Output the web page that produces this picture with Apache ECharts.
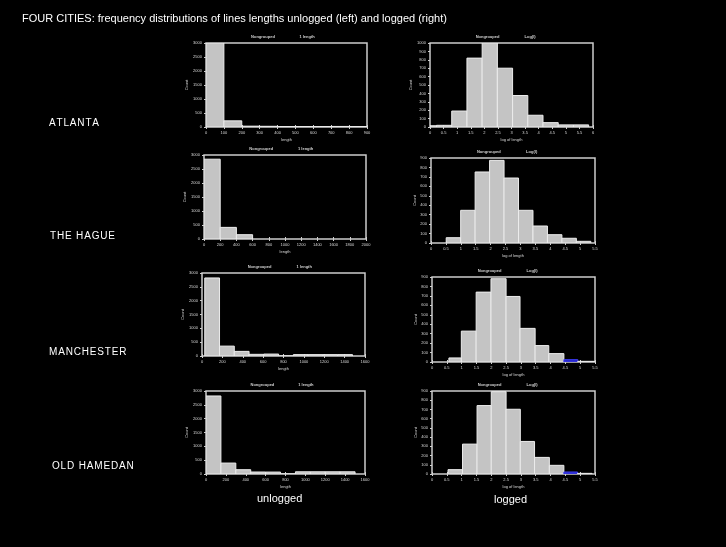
<!DOCTYPE html>
<html><head><meta charset="utf-8">
<script src="https://cdn.jsdelivr.net/npm/echarts@6/dist/echarts.min.js"></script>
<style>html,body{margin:0;padding:0;background:#000}#c{width:726px;height:547px}</style>
</head><body><div id="c"></div>
<script>
// ---------------- DATA ----------------
const titleText = 'FOUR CITIES: frequency distributions of lines lengths unlogged (left) and logged (right)';
const cities = ['ATLANTA', 'THE HAGUE', 'MANCHESTER', 'OLD HAMEDAN'];
const columnLabels = ['unlogged', 'logged'];

// unlogged histograms (bin edges in length units, counts)
const atlantaUnEdges = [0, 100, 200, 300, 400, 500, 600, 700, 800, 900];
const atlantaUnCounts = [3000, 220, 30, 25, 15, 15, 15, 20, 15];
const atlantaUnTicks = [0, 100, 200, 300, 400, 500, 600, 700, 800, 900];

const hagueUnEdges = [0, 200, 400, 600];
const hagueUnCounts = [2850, 415, 154];
const hagueUnTicks = [0, 200, 400, 600, 800, 1000, 1200, 1400, 1600, 1800, 2000];

const manchesterUnEdges = [27, 172, 317, 462, 607, 752, 897, 1042, 1187, 1332, 1477];
const manchesterUnCounts = [2821, 357, 167, 60, 70, 0, 50, 50, 50, 50];
const manchesterUnTicks = [0, 200, 400, 600, 800, 1000, 1200, 1400, 1600];

const hamedanUnEdges = [0, 150, 300, 450, 600, 750, 900, 1050, 1200, 1350, 1500];
const hamedanUnCounts = [2820, 395, 155, 72, 70, 0, 80, 80, 80, 80];
const hamedanUnTicks = [0, 200, 400, 600, 800, 1000, 1200, 1400, 1600];

const unYTicks = [0, 500, 1000, 1500, 2000, 2500, 3000];

// logged histograms
const atlantaLogEdges = [-0.32, 0.24, 0.80, 1.36, 1.92, 2.48, 3.04, 3.60, 4.16, 4.72, 5.28, 5.84];
const atlantaLogCounts = [15, 20, 190, 820, 1000, 700, 375, 140, 52, 25, 25];
const atlantaLogHighlight = [];
const atlantaLogTicks = [0, 0.5, 1, 1.5, 2, 2.5, 3, 3.5, 4, 4.5, 5, 5.5, 6];
const atlantaLogYTicks = [0, 100, 200, 300, 400, 500, 600, 700, 800, 900, 1000];

const hagueLogEdges = [0.51, 0.995, 1.48, 1.965, 2.45, 2.935, 3.42, 3.905, 4.39, 4.875, 5.36];
const hagueLogCounts = [56, 346, 752, 875, 688, 346, 180, 88, 50, 18];
const hagueLogHighlight = [];

const manchesterLogEdges = [0.57, 0.99, 1.49, 1.99, 2.5, 2.97, 3.48, 3.94, 4.45, 4.92, 5.49];
const manchesterLogCounts = [43, 327, 740, 882, 694, 356, 174, 89, 25, 7];
const manchesterLogHighlight = [8];

const hamedanLogEdges = [0.54, 1.03, 1.52, 2.0, 2.5, 2.98, 3.46, 3.96, 4.45, 4.91, 5.4];
const hamedanLogCounts = [47, 324, 742, 893, 702, 353, 180, 94, 22, 7];
const hamedanLogHighlight = [8];

const logTicks = [0, 0.5, 1, 1.5, 2, 2.5, 3, 3.5, 4, 4.5, 5, 5.5];
const logYTicks = [0, 100, 200, 300, 400, 500, 600, 700, 800, 900];

// ---------------- LAYOUT ----------------
const panels = [
  {e: atlantaUnEdges, c: atlantaUnCounts, h: [], x: atlantaUnTicks, y: unYTicks, name: 'length', top2: '1 length',
   rect: [206, 43, 161, 84]},
  {e: atlantaLogEdges, c: atlantaLogCounts, h: atlantaLogHighlight, x: atlantaLogTicks, y: atlantaLogYTicks, name: 'log of length', top2: 'Log(l)',
   rect: [430, 43, 163, 84]},
  {e: hagueUnEdges, c: hagueUnCounts, h: [], x: hagueUnTicks, y: unYTicks, name: 'length', top2: '1 length',
   rect: [204, 155, 162, 84]},
  {e: hagueLogEdges, c: hagueLogCounts, h: hagueLogHighlight, x: logTicks, y: logYTicks, name: 'log of length', top2: 'Log(l)',
   rect: [431, 158, 164, 85]},
  {e: manchesterUnEdges, c: manchesterUnCounts, h: [], x: manchesterUnTicks, y: unYTicks, name: 'length', top2: '1 length',
   rect: [202, 273, 163, 83]},
  {e: manchesterLogEdges, c: manchesterLogCounts, h: manchesterLogHighlight, x: logTicks, y: logYTicks, name: 'log of length', top2: 'Log(l)',
   rect: [432, 277, 163, 85]},
  {e: hamedanUnEdges, c: hamedanUnCounts, h: [], x: hamedanUnTicks, y: unYTicks, name: 'length', top2: '1 length',
   rect: [206, 391, 159, 83]},
  {e: hamedanLogEdges, c: hamedanLogCounts, h: hamedanLogHighlight, x: logTicks, y: logYTicks, name: 'log of length', top2: 'Log(l)',
   rect: [432, 391, 163, 83]}
];
const cityPos = [[49, 123], [50, 236], [49, 352], [52, 466]];
const colPos = [[257, 500], [494, 501]];

const FONT = '"Liberation Sans", Arial, sans-serif';
const tickColor = '#cfcfcf';

function renderBar(params, api) {
  const a = api.coord([api.value(0), api.value(2)]);
  const b = api.coord([api.value(1), 0]);
  const cs = params.coordSys;
  const r = echarts.graphic.clipRectByRect(
    {x: a[0], y: a[1], width: b[0] - a[0], height: b[1] - a[1]},
    {x: cs.x, y: cs.y, width: cs.width, height: cs.height});
  if (!r) return;
  const blue = api.value(3) === 1;
  return {type: 'rect', shape: r,
    style: {fill: blue ? '#2626c8' : '#c4c4c4', stroke: blue ? '#3c3cf0' : '#ececec', lineWidth: 1}};
}
const plain = v => String(v);

const grid = [], xAxis = [], yAxis = [], series = [], graphic = [];
panels.forEach((p, i) => {
  const [l, t, w, hgt] = p.rect;
  grid.push({left: l, top: t, width: w, height: hgt, show: true, backgroundColor: '#000',
    borderColor: '#cccccc', borderWidth: 1.5});
  const xMin = p.x[0], xMax = p.x[p.x.length - 1], xInt = p.x[1] - p.x[0];
  const yMin = p.y[0], yMax = p.y[p.y.length - 1], yInt = p.y[1] - p.y[0];
  const lbl = {color: '#d8d8d8', fontSize: 4, fontFamily: FONT, formatter: plain};
  xAxis.push({gridIndex: i, type: 'value', min: xMin, max: xMax, interval: xInt, position: 'bottom',
    axisLine: {show: false}, splitLine: {show: false},
    axisTick: {show: true, length: 2, lineStyle: {color: tickColor}},
    axisLabel: Object.assign({margin: 4}, lbl),
    name: p.name, nameLocation: 'middle', nameGap: 11, nameTextStyle: {color: '#d8d8d8', fontSize: 4, fontFamily: FONT}});
  xAxis.push({gridIndex: i, type: 'value', min: xMin, max: xMax, interval: xInt, position: 'top',
    axisLine: {show: false}, splitLine: {show: false}, axisLabel: {show: false},
    axisTick: {show: true, inside: false, length: 2, lineStyle: {color: tickColor}}});
  yAxis.push({gridIndex: i, type: 'value', min: yMin, max: yMax, interval: yInt, position: 'left',
    axisLine: {show: false}, splitLine: {show: false},
    axisTick: {show: true, length: 2, lineStyle: {color: tickColor}},
    axisLabel: Object.assign({margin: 4}, lbl),
    name: 'Count', nameLocation: 'middle', nameGap: 10, nameRotate: 90,
    nameTextStyle: {color: '#d8d8d8', fontSize: 4, fontFamily: FONT}});
  yAxis.push({gridIndex: i, type: 'value', min: yMin, max: yMax, interval: yInt, position: 'right',
    axisLine: {show: false}, splitLine: {show: false}, axisLabel: {show: false},
    axisTick: {show: true, inside: true, length: 2, lineStyle: {color: tickColor}}});
  const data = p.c.map((v, k) => [p.e[k], p.e[k + 1], v, p.h.indexOf(k) >= 0 ? 1 : 0]);
  series.push({type: 'custom', xAxisIndex: 2 * i, yAxisIndex: 2 * i, renderItem: renderBar,
    encode: {x: [0, 1], y: 2}, data: data, clip: true, silent: true, animation: false});
  graphic.push({type: 'text', left: l + w * 0.28, top: t - 8,
    style: {text: 'Nongrouped', fill: '#cfcfcf', font: 'bold 4px ' + FONT}});
  graphic.push({type: 'text', left: l + w * 0.58, top: t - 8,
    style: {text: p.top2, fill: '#cfcfcf', font: 'bold 4px ' + FONT}});
});

graphic.push({type: 'text', left: 22, top: 13,
  style: {text: titleText, fill: '#ffffff', font: '11px ' + FONT}});
cities.forEach((c, i) => {
  graphic.push({type: 'text', left: cityPos[i][0], top: cityPos[i][1] - 5,
    style: {text: c.split('').join('\u200A'), fill: '#ffffff', font: '10px ' + FONT}});
});
columnLabels.forEach((c, i) => {
  graphic.push({type: 'text', left: colPos[i][0], top: colPos[i][1] - 7,
    style: {text: c, fill: '#ffffff', font: '11px ' + FONT}});
});

const chart = echarts.init(document.getElementById('c'), null, {renderer: 'canvas'});
chart.setOption({backgroundColor: '#000', animation: false, grid, xAxis, yAxis, series, graphic});
</script></body></html>
